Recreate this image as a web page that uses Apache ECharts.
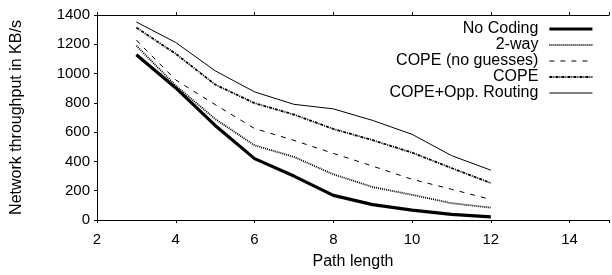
<!DOCTYPE html>
<html>
<head>
<meta charset="utf-8">
<script src="https://cdn.jsdelivr.net/npm/echarts@6/dist/echarts.min.js"></script>
<style>html,body{margin:0;padding:0;background:#fff}#c{width:612px;height:275px}</style>
</head>
<body>
<div id="c"></div>
<script>
const pathLengths = [3, 4, 5, 6, 7, 8, 9, 10, 11, 12];
const seriesNames = ['No Coding', '2-way', 'COPE (no guesses)', 'COPE', 'COPE+Opp. Routing'];
const noCoding = [1128, 902, 646, 419, 300, 168, 105, 68, 38, 22];
const twoWay = [1190, 918, 690, 510, 431, 312, 225, 172, 115, 84];
const copeNoGuess = [1228, 956, 788, 625, 544, 455, 368, 278, 210, 140];
const cope = [1314, 1135, 925, 798, 720, 622, 545, 460, 355, 252];
const copeOpp = [1352, 1212, 1019, 875, 790, 759, 680, 585, 440, 340];
const xTicks = [2, 4, 6, 8, 10, 12, 14];
const yTicks = [0, 200, 400, 600, 800, 1000, 1200, 1400];

const FONT = 'Liberation Sans';
const values = [noCoding, twoWay, copeNoGuess, cope, copeOpp];
const styles = [
  {width: 3.2, type: 'solid'},
  {width: 1.8, type: [1, 1]},
  {width: 1, type: [5, 6]},
  {width: 1.8, type: [3, 1, 1, 1]},
  {width: 1, type: 'solid'}
];
const pair = arr => pathLengths.map((x, i) => [x, arr[i]]);
const series = seriesNames.map((n, i) => ({
  name: n, type: 'line', data: pair(values[i]), symbol: 'none',
  lineStyle: Object.assign({color: '#000'}, styles[i]), itemStyle: {color: '#000'},
  animation: false, z: 10 - i
}));
const legendData = seriesNames.map((n, i) => ({
  name: n, lineStyle: Object.assign({color: '#000'}, styles[i]), itemStyle: {opacity: 0}
}));

const chart = echarts.init(document.getElementById('c'));
const xBase = {
  type: 'value', min: xTicks[0], max: 15, interval: 2,
  axisLine: {lineStyle: {color: '#000', width: 1}},
  axisTick: {show: true, inside: false, length: 3, lineStyle: {color: '#000'}},
  splitLine: {show: false}
};
chart.setOption({
  animation: false,
  grid: {left: 97, right: 0, top: 15, height: 207},
  legend: {
    orient: 'vertical', right: 18, top: 21, align: 'right', padding: 0,
    itemWidth: 43, itemHeight: 16, itemGap: 0,
    itemStyle: {opacity: 0},
    textStyle: {fontFamily: FONT, fontSize: 16, lineHeight: 14, color: '#000', padding: [2, 6, 0, 0]},
    data: legendData
  },
  xAxis: [
    Object.assign({}, xBase, {
      position: 'bottom', name: 'Path length', nameLocation: 'middle', nameGap: 34,
      nameTextStyle: {fontFamily: FONT, fontSize: 16, color: '#000'},
      axisLabel: {fontFamily: FONT, fontSize: 15, color: '#000', margin: 12,
        formatter: v => xTicks.includes(v) ? String(v) : ''}
    }),
    Object.assign({}, xBase, {position: 'top', axisLabel: {show: false}})
  ],
  yAxis: {
    type: 'value', min: yTicks[0], max: yTicks[yTicks.length - 1], interval: 200,
    name: 'Network throughput in KB/s', nameLocation: 'middle', nameGap: 72,
    nameTextStyle: {fontFamily: FONT, fontSize: 16, color: '#000'},
    axisLine: {show: true, lineStyle: {color: '#000', width: 1}},
    axisTick: {show: true, inside: false, length: 3, lineStyle: {color: '#000'}},
    axisLabel: {fontFamily: FONT, fontSize: 15, color: '#000', margin: 7,
      formatter: v => String(v)},
    splitLine: {show: false}
  },
  series: series
});
</script>
</body>
</html>
